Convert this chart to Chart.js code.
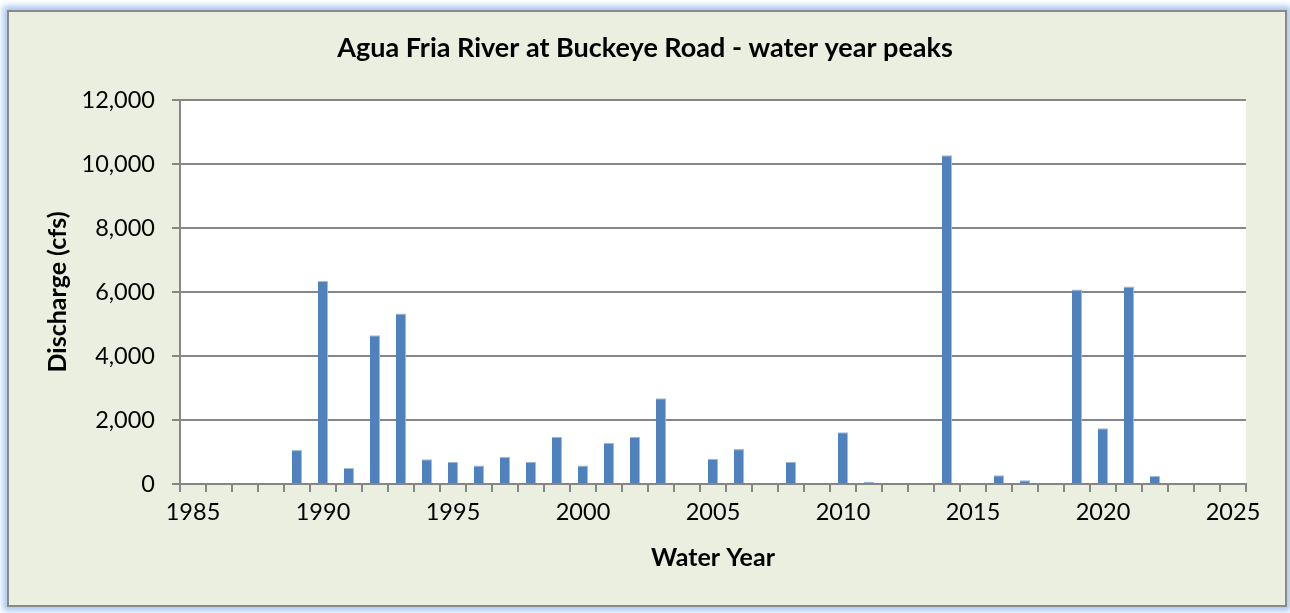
<!DOCTYPE html>
<html>
<head>
<meta charset="utf-8">
<script src="https://cdn.jsdelivr.net/npm/chart.js@4"></script>
<style>
  html, body { margin: 0; padding: 0; background: #fff; }
  #frame {
    position: absolute; left: 7px; top: 10px; width: 1276px; height: 593px;
    background: #ebefdf; border: 2px solid #8a8a8a;
    box-shadow: 0 0 6px 4px #a9c7ef;
  }
  #wrap { position: absolute; left: 0; top: 0; width: 1290px; height: 613px; }
</style>
</head>
<body>
<div id="frame"></div>
<div id="wrap"><canvas id="chart" width="1290" height="613"></canvas></div>
<script>
// Water years 1985-2025 (one category per year)
const years = [];
for (let y = 1985; y <= 2025; y++) years.push(String(y));

// Peak discharge (cfs), null = no peak shown
const peaks = [
  null, null, null, null, 1060,   // 1985-1989
  6340, 500, 4650, 5330, 770,      // 1990-1994
  690, 580, 850, 690, 1480,        // 1995-1999
  580, 1290, 1480, 2680, null,     // 2000-2004
  790, 1090, null, 690, null,      // 2005-2009
  1620, 70, null, null, 10270,     // 2010-2014
  null, 270, 120, null, 6080,      // 2015-2019
  1740, 6170, 250, null, null,     // 2020-2024
  null                             // 2025
];

const yTicks = [0, 2000, 4000, 6000, 8000, 10000, 12000];

const FONT = 'Lato, "Open Sans", sans-serif';
const GRID = '#868686';

const plotBg = {
  id: 'plotBg',
  beforeDraw(chart) {
    const { ctx, chartArea: a } = chart;
    ctx.save();
    ctx.fillStyle = '#ffffff';
    ctx.fillRect(a.left, a.top, a.right - a.left, a.bottom - a.top);
    ctx.restore();
  }
};

new Chart(document.getElementById('chart'), {
  type: 'bar',
  data: {
    labels: years,
    datasets: [{
      label: 'Peak discharge',
      data: peaks,
      backgroundColor: '#4f81bd',
      borderColor: '#9fbbe0',
      borderWidth: { right: 1, top: 1, left: 0, bottom: 0 },
      categoryPercentage: 1,
      barPercentage: 0.39
    }]
  },
  options: {
    responsive: false,
    animation: false,
    layout: { padding: 0 },
    plugins: {
      legend: { display: false },
      tooltip: { enabled: false },
      title: {
        display: true,
        text: 'Agua Fria River at Buckeye Road - water year peaks',
        color: '#000',
        font: { family: FONT, size: 27, weight: 'bold' },
        padding: { top: 32, bottom: 35.6 }
      }
    },
    scales: {
      x: {
        type: 'category',
        offset: true,
        afterFit(scale) { scale.height = 129; },
        grid: {
          offset: true, drawOnChartArea: false, drawTicks: true,
          tickLength: 8, color: GRID, lineWidth: 2
        },
        border: { color: GRID, width: 2 },
        ticks: {
          autoSkip: false, maxRotation: 0, padding: 6,
          color: '#000', font: { family: FONT, size: 23.5 },
          callback(v, i) { const y = +years[i]; return y % 5 === 0 ? years[i] : ''; }
        },
        title: {
          display: true, text: 'Water Year', color: '#000',
          font: { family: FONT, size: 25, weight: 'bold' },
          padding: { top: 0, bottom: 40 }
        }
      },
      y: {
        min: 0, max: 12000,
        afterFit(scale) { scale.width = 180; },
        afterBuildTicks(scale) { scale.ticks = yTicks.map(v => ({ value: v })); },
        grid: { color: GRID, lineWidth: 2, drawTicks: true, tickLength: 8 },
        border: { color: GRID, width: 2 },
        ticks: {
          padding: 17, color: '#000', font: { family: FONT, size: 23.5 },
          callback: v => v.toLocaleString('en-US')
        },
        title: {
          display: true, text: 'Discharge (cfs)', color: '#000',
          font: { family: FONT, size: 25, weight: 'bold' },
          padding: { top: 43, bottom: 0 }
        }
      },
      // empty right-hand margin so the title centres over the whole frame
      pad: {
        position: 'right', axis: 'y', min: 0, max: 1,
        afterFit(scale) { scale.width = 44; },
        grid: { display: false },
        border: { display: false },
        ticks: { display: false }
      }
    }
  },
  plugins: [plotBg]
});
</script>
</body>
</html>
